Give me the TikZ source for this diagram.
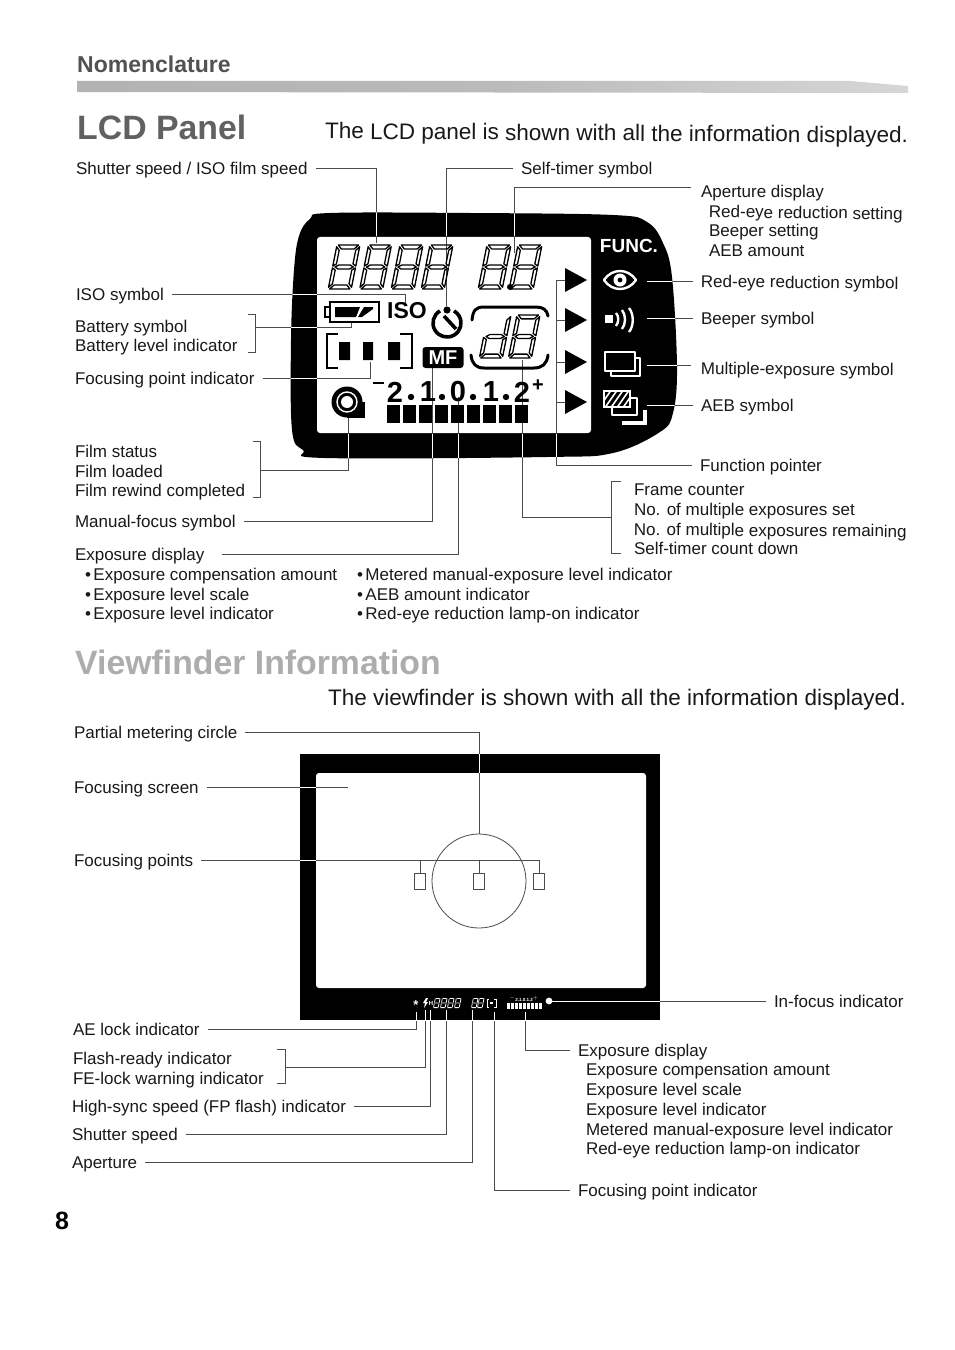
\documentclass[tikz,border=0pt]{standalone}
\usepackage{fontspec}
\setmainfont{Liberation Sans}
\usetikzlibrary{calc}
\definecolor{inkk}{gray}{0.1}
\definecolor{leadc}{gray}{0.3}
\tikzset{
 lbl/.style={font=\fontsize{17bp}{20bp}\selectfont,inner sep=0pt,outer xsep=8bp,outer ysep=0pt,text height=16bp,text depth=3.5bp,anchor=west,text=inkk},
 lead/.style={draw=leadc,line width=.7bp},
 whitelead/.style={draw=white,line width=.8bp},
 sub/.style={font=\fontsize{22.5bp}{26bp}\selectfont,inner sep=0pt,anchor=west,text=inkk},
 head/.style={font=\bfseries\fontsize{33.8bp}{36bp}\selectfont,inner sep=0pt,anchor=west},
 seg/.style={draw=black,line width=1.3bp,line join=round},
 segw/.style={fill=white,draw=none},
 sym/.style={draw=white,line width=2.4bp,line join=round},
 lcdt/.style={font=\bfseries\fontsize{29bp}{30bp}\selectfont,inner sep=0pt,text=black},
 tiny/.style={font=\bfseries\fontsize{6bp}{7bp}\selectfont,inner sep=0pt,text=white},
}
\newcommand\lab[4]{\node[lbl] (#1) at ({#2-8},#3) {#4};}
% seven segments in a unit box
\def\sga#1{\path[#1] (.06,0)--(.94,0)--(.78,.09)--(.22,.09)--cycle;}
\def\sgg#1{\path[#1] (.1,.5)--(.25,.455)--(.75,.455)--(.9,.5)--(.75,.545)--(.25,.545)--cycle;}
\def\sgd#1{\path[#1] (.06,1)--(.94,1)--(.78,.91)--(.22,.91)--cycle;}
\def\sgf#1{\path[#1] (0,.04)--(.14,.12)--(.14,.43)--(0,.48)--cycle;}
\def\sge#1{\path[#1] (0,.52)--(.14,.57)--(.14,.88)--(0,.96)--cycle;}
\def\sgb#1{\path[#1] (1,.04)--(.86,.12)--(.86,.43)--(1,.48)--cycle;}
\def\sgc#1{\path[#1] (1,.52)--(.86,.57)--(.86,.88)--(1,.96)--cycle;}
\newcommand\segdigit[6]{\begin{scope}[shift={(#1,#2)},xslant=.2,xscale=#3,yscale=#4]
 \foreach \s in {#5}{\csname sg\s\endcsname{#6}}\end{scope}}
\newcommand\bezelshape[1]{\path[#1] plot[smooth cycle,tension=.6] coordinates {(330,213)(470,213)(613,215)(647,222)(663,243)(672,277)(677,367)(673,413)(660,432)(613,453)(547,457)(325,458)(303,450)(292,430)(291,340)(294,270)(299,236)(310,219)};}
\newcommand\lcdleaders[1]{
 \draw[#1] (lShutter.east) -| (tShutter);
 \draw[#1] (lSelf.west) -| (tSelf);
 \draw[#1] (aEnd) -| (tAper);
 \draw[#1] (lIso.east) -| (tIso);
 \draw[#1] (bBatt) -| (tBatt);
 \draw[#1] (lFocus.east) -| (tFocus);
 \draw[#1] (bFilm) -| (tFilm);
 \draw[#1] (lMF.east) -| (tMF);
 \draw[#1] (eExpo) -| (tExpo);
 \draw[#1] (bFrame) -| (tFrame);
 \draw[#1] (sEye) -- (lEye.west);
 \draw[#1] (sBeep) -- (lBeep.west);
 \draw[#1] (sMulti) -- (eMulti);
 \draw[#1] (sAeb) -- (lAeb.west);
 \draw[#1] (lFunc.west) -| (tFunc);
 \draw[#1] (tFunc) -- (arrA);
 \draw[#1] (tFuncB) -- (arrB);
 \draw[#1] (tFuncC) -- (arrC);
 \draw[#1] (tFuncD) -- (arrD);
}
\newcommand\vfleaders[1]{
 \draw[#1] (vPartial.east) -| (circ.north);
 \draw[#1] (vScreen.east) -- (vScreenEnd);
 \draw[#1] (vPoints.east) -| (fpc.north);
 \draw[#1] (fpa.north) -- (fpa.north |- vPoints.east);
 \draw[#1] (fpb.north) -- (fpb.north |- vPoints.east);
 \draw[#1] (vInfoc.west) -- (ledDot);
 \draw[#1] (vAE.east) -| (ledA);
 \draw[#1] (bFlash) -| (ledB);
 \draw[#1] (vHigh.east) -| (ledC);
 \draw[#1] (vShutter.east) -| (ledD);
 \draw[#1] (vAper.east) -| (ledE);
 \draw[#1] (vExpo.west) -| (ledF);
 \draw[#1] (vFP.west) -| (ledG);
}
\begin{document}
\begin{tikzpicture}[x=1bp,y=-1bp]
\useasboundingbox (0,0) rectangle (954,1350);
\fill[white] (0,0) rectangle (954,1350);
% headers
\node[inner sep=0pt,anchor=west,font=\bfseries\fontsize{23bp}{26bp}\selectfont,text=black!68] (hNom) at (77,64) {Nomenclature};
\path[left color=black!30,right color=black!16,middle color=black!27] (77,81) -- (850,81) -- (908,86) -- (908,93) -- (77,92) -- cycle;
\node[head,text=black!62] (hLcd) at (77,127) {LCD Panel};
\node[sub,rotate=-.4] (sLcd) at (325,133) {The LCD panel is shown with all the information displayed.};
\node[head,text=black!32] (hVf) at (75,662) {Viewfinder Information};
\node[sub] (sVf) at (328,700) {The viewfinder is shown with all the information displayed.};
\node[inner sep=0pt,anchor=west,font=\bfseries\fontsize{25bp}{28bp}\selectfont] (page) at (55,1221) {8};
% LCD labels
\lab{lShutter}{76}{168}{Shutter speed / ISO film speed}
\lab{lSelf}{521}{168}{Self-timer symbol}
\lab{lAperD}{701}{191}{Aperture display}
\node[lbl,rotate=-.7] (lAperA) at (701,211) {Red-eye reduction setting};
\lab{lAperB}{709}{230}{Beeper setting}
\lab{lAperC}{709}{250}{AEB amount}
\lab{lIso}{76}{294}{ISO symbol}
\lab{lBattA}{75}{326}{Battery symbol}
\lab{lBattB}{75}{345}{Battery level indicator}
\lab{lFocus}{75}{378}{Focusing point indicator}
\node[lbl,rotate=-.5] (lEye) at (693,281) {Red-eye reduction symbol};
\lab{lBeep}{701}{318}{Beeper symbol}
\node[lbl,rotate=-.5] (lMulti) at (693,368) {Multiple-exposure symbol};
\lab{lAeb}{701}{405}{AEB symbol}
\lab{lFilmA}{75}{451}{Film status}
\lab{lFilmB}{75}{471}{Film loaded}
\lab{lFilmC}{75}{490}{Film rewind completed}
\lab{lMF}{75}{521}{Manual-focus symbol}
\lab{lExpo}{75}{554}{Exposure display}
\lab{lBulA}{85}{574}{•\kern2.5bp Exposure compensation amount}
\lab{lBulB}{85}{594}{•\kern2.5bp Exposure level scale}
\lab{lBulC}{85}{613}{•\kern2.5bp Exposure level indicator}
\lab{lBulD}{357}{574}{•\kern2.5bp Metered manual-exposure level indicator}
\lab{lBulE}{357}{594}{•\kern2.5bp AEB amount indicator}
\lab{lBulF}{357}{613}{•\kern2.5bp Red-eye reduction lamp-on indicator}
\lab{lFunc}{700}{465}{Function pointer}
\lab{lFrA}{634}{489}{Frame counter}
\lab{lFrB}{634}{509}{No. of multiple exposures set}
\node[lbl,rotate=-.4] (lFrC) at (626,529) {No. of multiple exposures remaining};
\lab{lFrD}{634}{548}{Self-timer count down}
% LCD connector targets
\coordinate (tShutter) at (376,243);
\coordinate (tSelf) at (446,306);
\coordinate (aEnd) at (691,187);
\coordinate (tAper) at (514,253);
\coordinate (tIso) at (405,303);
\coordinate (bBatt) at (255,327);
\coordinate (tBatt) at (351,322);
\coordinate (tFocus) at (370,362);
\coordinate (bFilm) at (260,470);
\coordinate (tFilm) at (348,417);
\coordinate (tMF) at (432,368);
\coordinate (eExpo) at (222,554);
\coordinate (tExpo) at (458,397);
\coordinate (bFrame) at (611,517);
\coordinate (tFrame) at (522,360);
\coordinate (sEye) at (647,281);
\coordinate (sBeep) at (647,318);
\coordinate (sMulti) at (647,365);
\coordinate (eMulti) at (691,365);
\coordinate (sAeb) at (647,405);
\coordinate (tFunc) at (556,280);
\coordinate (tFuncB) at (556,320);
\coordinate (tFuncC) at (556,362);
\coordinate (tFuncD) at (556,402);
\coordinate (arrA) at (566,280);
\coordinate (arrB) at (566,320);
\coordinate (arrC) at (566,362);
\coordinate (arrD) at (566,402);
% brackets
\draw[lead] (248,314) -- (255,314) -- (255,352) -- (248,352);
\draw[lead] (253,441) -- (260,441) -- (260,497) -- (253,497);
\draw[lead] (621,481) -- (611,481) -- (611,553) -- (621,553);
% LCD body
\lcdleaders{lead}
\bezelshape{fill=black}
\begin{scope}\bezelshape{clip}\lcdleaders{whitelead}\end{scope}
\fill[white,rounded corners=3bp] (317,237) rectangle (591,433);
\begin{scope}\clip (317,237) rectangle (591,433);\lcdleaders{lead}\end{scope}
% segment digits
\foreach \x in {337,368.5,400,430}{\segdigit{\x}{245}{23}{44}{a,b,c,d,e,f,g}{seg}}
\segdigit{487}{245}{24}{44}{a,b,c,d,e,f,g}{seg}
\segdigit{518}{245}{24}{44}{a,b,c,d,e,f,g}{seg}
\fill[black] (510,287) circle (3bp);
\segdigit{488}{315}{23}{43}{b,c,d,e,g}{seg}
\segdigit{517}{315}{23}{43}{a,b,c,d,e,f,g}{seg}
\draw[black,line width=3bp,line cap=round] (472,320) .. controls (473,310) and (476,307) .. (484,307) -- (536,307) .. controls (543,307) and (547,310) .. (548,316);
\draw[black,line width=3bp,line cap=round] (471,355) .. controls (472,364) and (476,368) .. (484,368) -- (534,368) .. controls (542,368) and (547,364) .. (548,355);
% battery
\draw[black,line width=1.3bp] (330,302) rectangle (379,322);
\draw[black,line width=1.2bp] (325,307) rectangle (330,317);
\fill[black] (335,307) -- (360,307) -- (356,317) -- (335,317) -- cycle;
\fill[black] (364,307) -- (373,307) -- (373,309) -- (362,317) -- (358,317) -- cycle;
% ISO
\node[inner sep=0pt,font=\bfseries\fontsize{23bp}{25bp}\selectfont] (isoT) at (407,311) {ISO};
% self timer
\draw[black,line width=3.6bp] (440,310.9) arc[start angle=120,end angle=420,radius=14bp];
\fill[black] (447,310) circle (3.6bp);
\draw[black,line width=3.6bp] (444,316) -- (456,329);
% AF bracket
\draw[black,line width=2.6bp] (338,334) -- (327,334) -- (327,368) -- (338,368);
\draw[black,line width=2.6bp] (400,334) -- (412,334) -- (412,368) -- (400,368);
\fill[black] (339,342) rectangle (350,360) (363,342) rectangle (373,360) (388,342) rectangle (400,360);
% MF
\node[fill=black,rounded corners=3bp,minimum width=41bp,minimum height=21bp,inner sep=0pt,text=white,font=\bfseries\fontsize{20bp}{21bp}\selectfont] (mf) at (443,357.5) {MF};
% scale
\draw[black,line width=2.6bp] (373,383) -- (384,383);
\node[lcdt] (dA) at (395,392) {2};
\node[lcdt] (dB) at (428,392) {1};
\node[lcdt] (dC) at (458,392) {0};
\node[lcdt] (dD) at (491,392) {1};
\node[lcdt] (dE) at (522,392) {2};
\node[lcdt,font=\bfseries\fontsize{20bp}{22bp}\selectfont] (dP) at (538,386) {+};
\foreach \x in {411,442,473,506}{\fill[black] (\x,397) circle (3.2bp);}
\foreach \i in {0,...,8}{\fill[black] ({387+16*\i},405) rectangle ({400+16*\i},423);}
% film
\fill[black] (347,402) circle (15.5bp);
\fill[black] (347,402) rectangle (365,418);
\draw[white,line width=1.4bp] (347,402) circle (10bp);
\fill[white] (347,402) circle (6bp);
% arrows
\foreach \y in {280,320,362,402}{\fill[black] (565,{\y-12}) -- (587,\y) -- (565,{\y+12}) -- cycle;}
% white symbols
\node[inner sep=0pt,text=white,font=\bfseries\fontsize{19bp}{21bp}\selectfont] (func) at (629,246) {FUNC.};
\draw[sym] (604,280) .. controls (612,268) and (628,268) .. (636,280) .. controls (628,292) and (612,292) .. (604,280) -- cycle;
\fill[white] (620,280) circle (6.5bp);
\fill[black] (620,280) circle (2.4bp);
\fill[white] (605,315) rectangle (613,323);
\draw[sym] (616,313) .. controls (619,316) and (619,322) .. (616,326);
\draw[sym] (622,310) .. controls (626,315) and (626,324) .. (622,329);
\draw[sym] (629,308) .. controls (634,314) and (634,326) .. (629,332);
\draw[sym] (611,358) rectangle (640,376);
\draw[sym,fill=black] (605,352) rectangle (635,371);
\draw[sym,line width=2bp] (612,398) rectangle (637,415);
\begin{scope}
 \clip (604,391) rectangle (630,407);
 \fill[black] (604,391) rectangle (630,407);
 \foreach \i in {0,...,8}{\draw[white,line width=1.6bp] ({598+6*\i},409) -- ({612+6*\i},389);}
\end{scope}
\draw[white,line width=1.4bp] (604,391) rectangle (630,407);
\draw[white,line width=3.4bp] (622,423) -- (645,423) -- (645,410);
% Viewfinder labels
\lab{vPartial}{74}{732}{Partial metering circle}
\lab{vScreen}{74}{787}{Focusing screen}
\lab{vPoints}{74}{860}{Focusing points}
\lab{vInfoc}{774}{1001}{In-focus indicator}
\lab{vAE}{73}{1029}{AE lock indicator}
\lab{vFlA}{73}{1058}{Flash-ready indicator}
\lab{vFlB}{73}{1078}{FE-lock warning indicator}
\lab{vHigh}{72}{1106}{High-sync speed (FP flash) indicator}
\lab{vShutter}{72}{1134}{Shutter speed}
\lab{vAper}{72}{1162}{Aperture}
\lab{vExpo}{578}{1050}{Exposure display}
\lab{vExA}{586}{1069}{Exposure compensation amount}
\lab{vExB}{586}{1089}{Exposure level scale}
\lab{vExC}{586}{1109}{Exposure level indicator}
\lab{vExD}{586}{1129}{Metered manual-exposure level indicator}
\lab{vExE}{586}{1148}{Red-eye reduction lamp-on indicator}
\lab{vFP}{578}{1190}{Focusing point indicator}
% Viewfinder shapes that the connectors reach
\coordinate (vScreenEnd) at (348,787);
\node[draw=none,circle,minimum size=94bp,inner sep=0pt] (circ) at (479,881) {};
\node[draw=none,minimum width=11bp,minimum height=15bp,inner sep=0pt] (fpa) at (420,881.5) {};
\node[draw=none,minimum width=11bp,minimum height=15bp,inner sep=0pt] (fpb) at (479,881.5) {};
\node[draw=none,minimum width=11bp,minimum height=15bp,inner sep=0pt] (fpc) at (539,881.5) {};
\coordinate (ledDot) at (549,1001);
\coordinate (ledA) at (416,1012);
\coordinate (ledB) at (425,1010);
\coordinate (ledC) at (430,1010);
\coordinate (ledD) at (446,1010);
\coordinate (ledE) at (472,1010);
\coordinate (ledF) at (525,1012);
\coordinate (ledG) at (494,1012);
\coordinate (bFlash) at (285,1067);
\draw[lead] (277,1049) -- (285,1049) -- (285,1083) -- (277,1083);
% Viewfinder body
\vfleaders{lead}
\fill[black] (300,754) rectangle (660,1020);
\begin{scope}\clip (300,754) rectangle (660,1020);\vfleaders{whitelead}\end{scope}
\fill[white,rounded corners=3bp] (316,773) rectangle (646,988);
\begin{scope}\clip (316,773) rectangle (646,988);\vfleaders{lead}\end{scope}
\draw[leadc,line width=.8bp] (circ) circle (47bp);
\draw[leadc,line width=.8bp] (fpa.south west) rectangle (fpa.north east);
\draw[leadc,line width=.8bp] (fpb.south west) rectangle (fpb.north east);
\draw[leadc,line width=.8bp] (fpc.south west) rectangle (fpc.north east);
% LED row
\node[inner sep=0pt,text=white,font=\bfseries\fontsize{13bp}{14bp}\selectfont] (ledStar) at (416,1005) {*};
\fill[white] (426,998) -- (423,1003) -- (425,1003) -- (424,1008) -- (428,1002) -- (426,1002) -- (428,998) -- cycle;
\node[tiny] (ledH) at (431,1003.5) {H};
\foreach \x in {435,442,449,456,473,479}{\segdigit{\x}{998}{5.5}{10}{a,b,c,d,e,f,g}{segw}}
\draw[white,line width=.8bp] (489,999) -- (487,999) -- (487,1007) -- (489,1007) (494,999) -- (496,999) -- (496,1007) -- (494,1007);
\fill[white] (490,1002) rectangle (493,1004);
\node[tiny,font=\bfseries\fontsize{4.5bp}{5bp}\selectfont] (ledS) at (524,999) {$^-$2.1.0.1.2$^+$};
\foreach \i in {0,...,8}{\fill[white] ({507+4*\i},1003) rectangle ({510+4*\i},1009);}
\fill[white] (549,1001) circle (3.4bp);
\end{tikzpicture}
\end{document}
